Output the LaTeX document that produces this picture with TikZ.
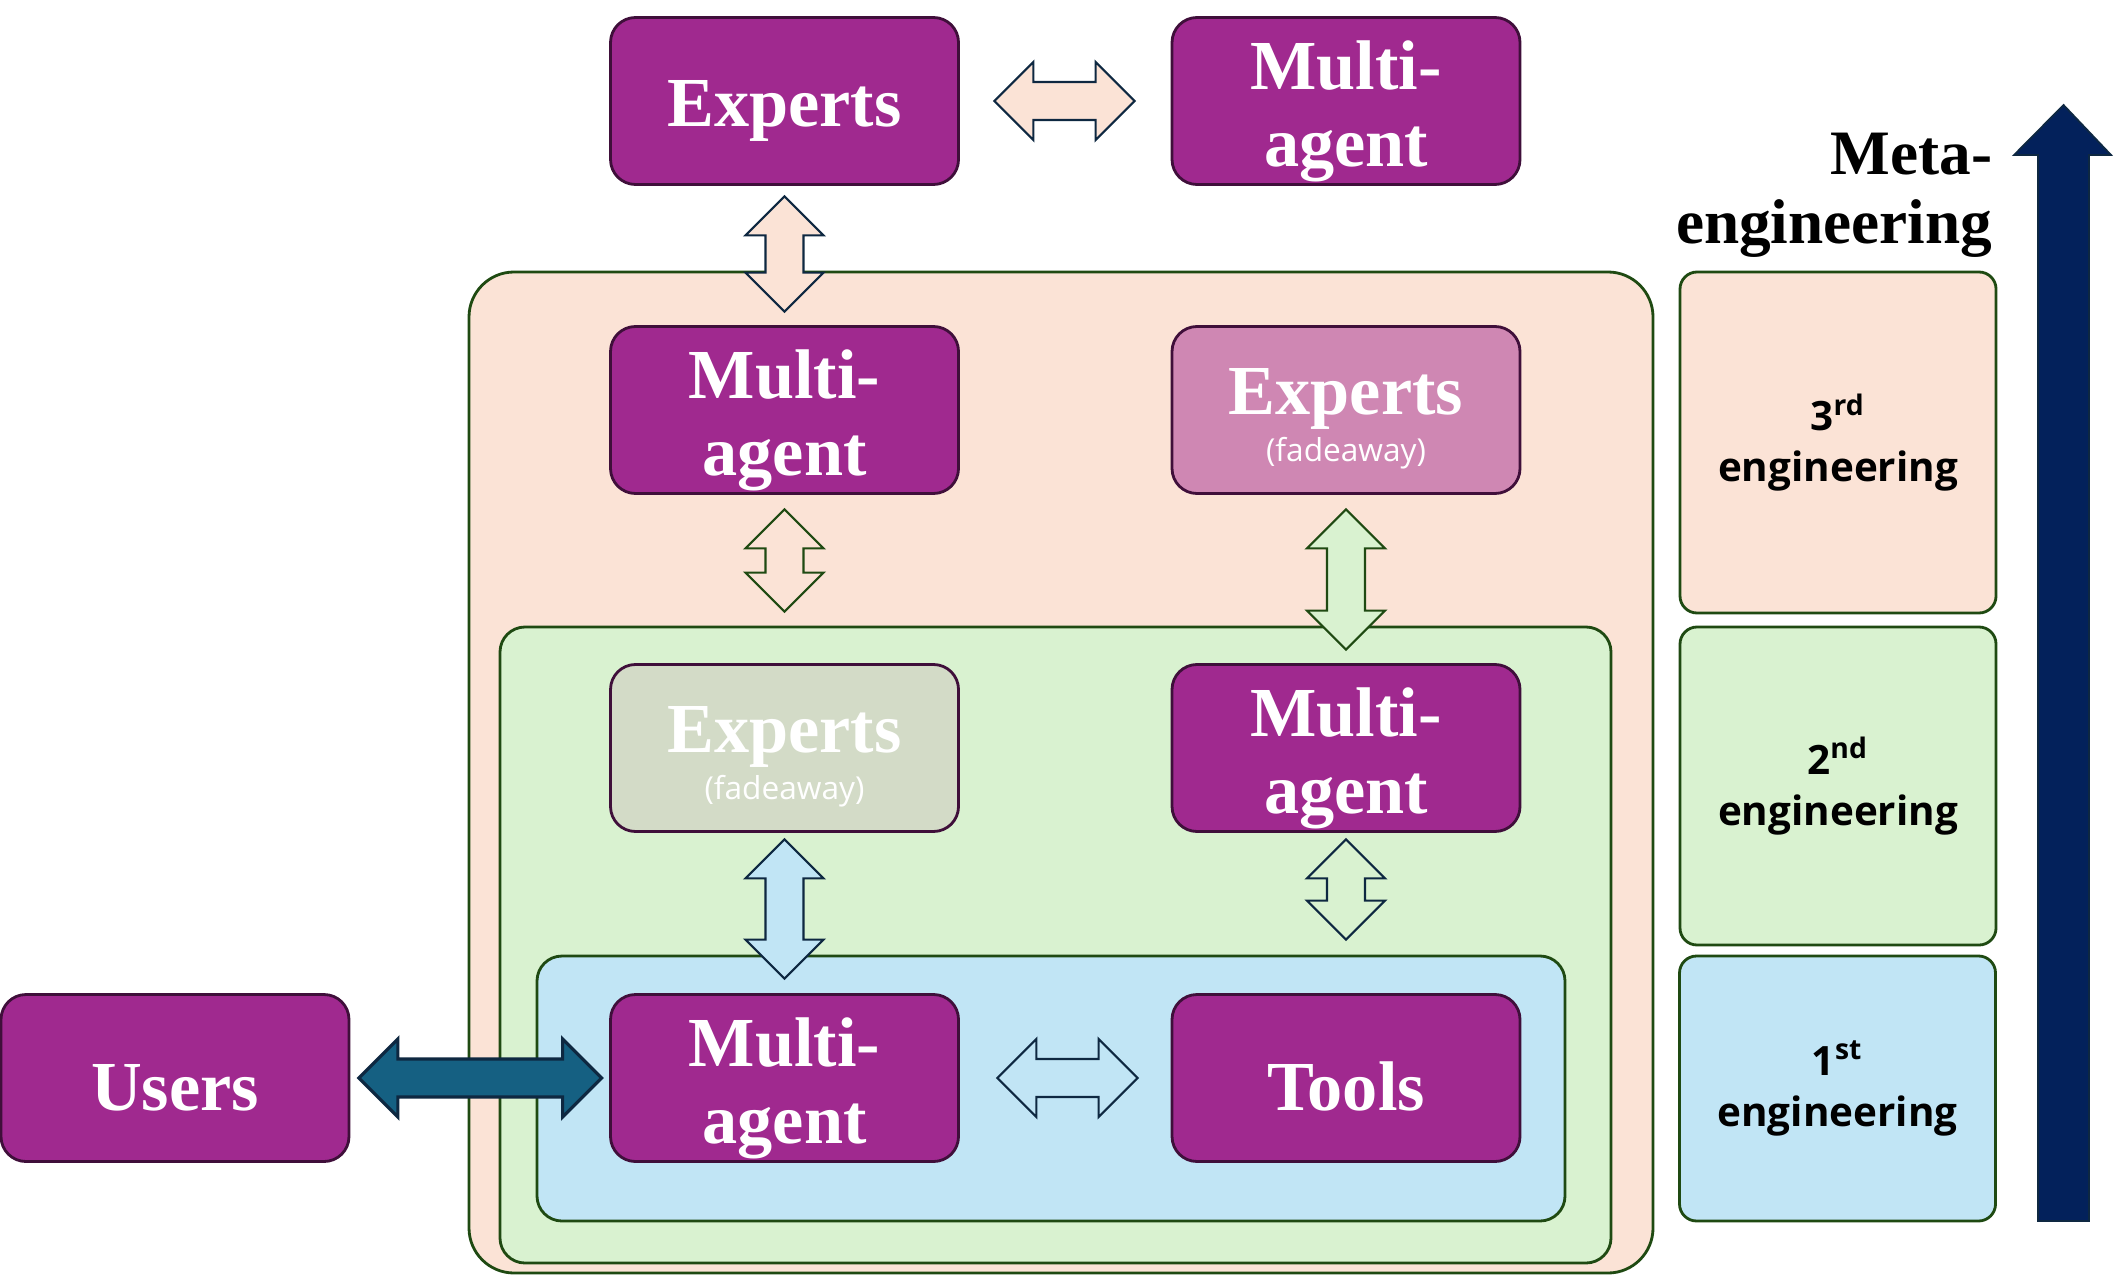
\documentclass[tikz,border=0pt]{standalone}
\usepackage{fontspec}
\setmainfont{Liberation Serif}
\newfontfamily\uifont{Open Sans}
\usepackage{tikz}
\usetikzlibrary{calc}

\definecolor{boxpurple}{HTML}{A0298F}
\definecolor{boxedge}{HTML}{3F0F3A}
\definecolor{peach}{HTML}{FBE3D6}
\definecolor{mint}{HTML}{D9F2D0}
\definecolor{sky}{HTML}{C1E5F5}
\definecolor{fadepink}{HTML}{CF87B3}
\definecolor{fadegrey}{HTML}{D3DBC7}
\definecolor{frameline}{HTML}{1F4A12}
\definecolor{userteal}{HTML}{156082}
\definecolor{inkline}{HTML}{0E2841}
\definecolor{metanavy}{HTML}{03215B}

\newcommand{\arrhead}{0.39cm}
\newcommand{\arrhalf}{0.39cm}
\newcommand{\arrshaft}{0.19cm}

\tikzset{
  agent/.style={draw=boxedge, line width=0.8pt, fill=boxpurple, rounded corners=0.25cm,
    minimum width=3.48cm, minimum height=1.67cm, inner sep=0pt, text=white, align=center,
    font=\fontsize{20}{22}\selectfont\bfseries},
  level/.style={draw=frameline, line width=0.8pt, rounded corners=0.17cm, minimum width=3.16cm,
    inner sep=0pt, align=center, font=\uifont\bfseries\fontsize{11.5}{14.5}\selectfont},
  dblarrow/.style={draw=inkline, line width=0.6pt, line join=miter,
    to path={-- ($(\tikztostart)!\arrhead!(\tikztotarget)!\arrhalf!90:(\tikztotarget)$)
      -- ($(\tikztostart)!\arrhead!(\tikztotarget)!\arrshaft!90:(\tikztotarget)$)
      -- ($(\tikztotarget)!\arrhead!(\tikztostart)!\arrshaft!-90:(\tikztostart)$)
      -- ($(\tikztotarget)!\arrhead!(\tikztostart)!\arrhalf!-90:(\tikztostart)$)
      -- (\tikztotarget)
      -- ($(\tikztotarget)!\arrhead!(\tikztostart)!\arrhalf!90:(\tikztostart)$)
      -- ($(\tikztotarget)!\arrhead!(\tikztostart)!\arrshaft!90:(\tikztostart)$)
      -- ($(\tikztostart)!\arrhead!(\tikztotarget)!\arrshaft!-90:(\tikztotarget)$)
      -- ($(\tikztostart)!\arrhead!(\tikztotarget)!\arrhalf!-90:(\tikztotarget)$)
      -- cycle}}
}
\newcommand{\oneline}[1]{\rule{0pt}{18.5pt}#1}
\newcommand{\magent}{\rule{0pt}{19.6pt}Multi-\\agent}
\newcommand{\fadeexperts}{\rule{0pt}{18.1pt}Experts\\[-8.4pt]{\uifont\mdseries\fontsize{9}{11}\selectfont (fadeaway)}}

\begin{document}
\begin{tikzpicture}
  \useasboundingbox (0,0) rectangle (21.14,12.75);

  % Levels
  \draw[draw=frameline, line width=0.8pt, fill=peach, rounded corners=0.45cm] (4.69,0.02) rectangle (16.53,10.03);
  \draw[draw=frameline, line width=0.8pt, fill=mint, rounded corners=0.25cm] (5.00,0.12) rectangle (16.11,6.48);
  \draw[draw=frameline, line width=0.8pt, fill=sky, rounded corners=0.25cm] (5.37,0.54) rectangle (15.65,3.19);

  % Boxes
  \node[agent] (exTop) at (7.845,11.74) {\oneline{Experts}};
  \node[agent] (maTop) at (13.46,11.74) {\magent};
  \node[agent] (maL3) at (7.845,8.65) {\magent};
  \node[agent, fill=fadepink] (exFadeL3) at (13.46,8.65) {\fadeexperts};
  \node[agent, fill=fadegrey] (exFadeL2) at (7.845,5.27) {\fadeexperts};
  \node[agent] (maL2) at (13.46,5.27) {\magent};
  \node[agent] (maL1) at (7.845,1.97) {\magent};
  \node[agent] (tools) at (13.46,1.97) {\oneline{Tools}};
  \node[agent] (users) at (1.75,1.97) {\oneline{Users}};

  % Arrows
  \draw[dblarrow, fill=peach] ([xshift=0.345cm]exTop.east) to ([xshift=-0.36cm]maTop.west);
  \draw[dblarrow, fill=peach] ([yshift=-0.105cm]exTop.south) to ([yshift=0.135cm]maL3.north);
  \draw[dblarrow, fill=peach, draw=frameline] ([yshift=-0.145cm]maL3.south) to ([yshift=0.515cm]exFadeL2.north);
  \draw[dblarrow, fill=mint, draw=frameline] ([yshift=-0.145cm]exFadeL3.south) to ([yshift=0.135cm]maL2.north);
  \draw[dblarrow, fill=sky] ([yshift=-0.065cm]exFadeL2.south) to ([yshift=0.145cm]maL1.north);
  \draw[dblarrow, fill=mint] ([yshift=-0.065cm]maL2.south) to ([yshift=0.535cm]tools.north);
  \draw[dblarrow, fill=userteal, line width=0.9pt] ([xshift=0.085cm]users.east) to ([xshift=-0.075cm]maL1.west);
  \draw[dblarrow, fill=sky] ([xshift=0.375cm]maL1.east) to ([xshift=-0.33cm]tools.west);

  % Meta-engineering scale
  \node[level, fill=peach, minimum height=3.41cm] (lvl3) at (18.38,8.325) {3\textsuperscript{rd}\\engineering};
  \node[level, fill=mint, minimum height=3.18cm] (lvl2) at (18.38,4.89) {2\textsuperscript{nd}\\engineering};
  \node[level, fill=sky, minimum height=2.65cm] (lvl1) at (18.375,1.865) {1\textsuperscript{st}\\engineering};
  \node[anchor=east, align=right, inner sep=0pt, font=\fontsize{18}{19.6}\selectfont\bfseries] (meta) at (19.93,10.8) {Meta-\\engineering};
  \filldraw[fill=metanavy, draw=inkline, line width=0.5pt] (20.38,0.54) -- (20.38,11.20) -- (20.14,11.20) -- (20.635,11.70)
    -- (21.11,11.20) -- (20.89,11.20) -- (20.89,0.54) -- cycle;
\end{tikzpicture}
\end{document}
